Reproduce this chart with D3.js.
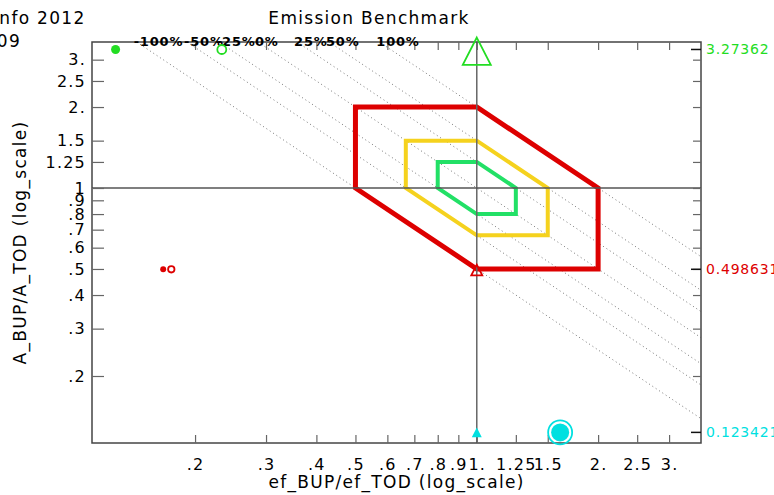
<!DOCTYPE html>
<html>
<head>
<meta charset="utf-8">
<script src="https://cdn.jsdelivr.net/npm/d3@7"></script>
<style>
  body { margin: 0; background: #fff; }
  svg text { font-family: "DejaVu Sans", sans-serif; }
</style>
</head>
<body>
<svg id="bench" width="774" height="495"></svg>
<script>
// tick values and labels
var xTicks = [0.2, 0.3, 0.4, 0.5, 0.6, 0.7, 0.8, 0.9, 1, 1.25, 1.5, 2, 2.5, 3];
var xTickLabels = [".2", ".3", ".4", ".5", ".6", ".7", ".8", ".9", "1.", "1.25", "1.5", "2.", "2.5", "3."];
var yTicks = [3, 2.5, 2, 1.5, 1.25, 1, 0.9, 0.8, 0.7, 0.6, 0.5, 0.4, 0.3, 0.2];
var yTickLabels = ["3.", "2.5", "2.", "1.5", "1.25", "1", ".9", ".8", ".7", ".6", ".5", ".4", ".3", ".2"];

// benchmark boxes (factor around 1) and iso-emission lines (ef*A)
var boxFactors = [2, 1.5, 1.25];
var isoValues = [0.5, 0.6667, 0.8, 1, 1.25, 1.5, 2];
var isoLabels = ["-100%", "-50%", "-25%", "0%", "25%", "50%", "100%"];

// series: A ratio, x of filled dot, x of open circle, x of triangle
var seriesNames = ["green", "red", "cyan"];
var seriesA = [3.27362, 0.498631, 0.123421];
var seriesDotX = [0.127, 0.1667, 1.61];
var seriesRingX = [0.233, 0.1746, 1.61];
var seriesTriX = [1, 1, 1];

!(function (d3) {

var svg = d3.select("#bench"),
    left = 92, right = 701, top = 42, bottom = 443;

var x = d3.scaleLog().domain([0.111, 3.6]).range([left, right]);
var y = d3.scaleLog().domain([0.1127, 3.49]).range([bottom, top]);

var col = {green: "#22dd22", red: "#dd0000", cyan: "#00e0e0"};
var boxCol = ["#dd0000", "#f5d21e", "#22e066"];
var boxW = [5, 4, 4];
var mk = {
  green: {dot: 4.5, ring: 4.5, tri: 14, triFill: false},
  red: {dot: 3, ring: 3.2, tri: 5.5, triFill: false},
  cyan: {dot: 9, ring: 12, tri: 3.5, triFill: true}
};

svg.append("defs").append("clipPath").attr("id", "plotclip")
  .append("rect").attr("x", left).attr("y", top)
  .attr("width", right - left).attr("height", bottom - top);

// texts at top
svg.append("text").attr("x", 369).attr("y", 24).attr("text-anchor", "middle")
  .style("font-size", "17px").style("letter-spacing", "1.3px").text("Emission Benchmark");
svg.append("text").attr("x", -7).attr("y", 24)
  .style("font-size", "17px").style("letter-spacing", "1.3px").text("Info 2012");
svg.append("text").attr("x", 21).attr("y", 47).attr("text-anchor", "end")
  .style("font-size", "17px").style("letter-spacing", "1.3px").text("2009");

// iso lines
var plot = svg.append("g").attr("clip-path", "url(#plotclip)");
plot.selectAll("line.iso")
  .data(isoValues)
  .enter().append("line")
    .attr("class", "iso")
    .attr("x1", function(d) { return x(d / y.domain()[1]); })
    .attr("y1", top)
    .attr("x2", right)
    .attr("y2", function(d) { return y(d / x.domain()[1]); })
    .attr("stroke", "#777")
    .attr("stroke-width", 1)
    .attr("stroke-dasharray", "1,3");

// crosshair at 1
svg.append("line").attr("x1", x(1)).attr("x2", x(1)).attr("y1", top).attr("y2", bottom)
  .attr("stroke", "#666").attr("stroke-width", 1.5);
svg.append("line").attr("x1", left).attr("x2", right).attr("y1", y(1)).attr("y2", y(1))
  .attr("stroke", "#555").attr("stroke-width", 1.5);

// benchmark hexagons
var hex = d3.line().x(function(p) { return x(p[0]); }).y(function(p) { return y(p[1]); });
plot.selectAll("path.box")
  .data(boxFactors)
  .enter().append("path")
    .attr("class", "box")
    .attr("d", function(f) {
      return hex([[1 / f, 1], [1 / f, f], [1, f], [f, 1], [f, 1 / f], [1, 1 / f]]) + "Z";
    })
    .attr("fill", "none")
    .attr("stroke", function(d, i) { return boxCol[i]; })
    .attr("stroke-width", function(d, i) { return boxW[i]; })
    .attr("stroke-linejoin", "miter");

// frame
svg.append("rect").attr("x", left).attr("y", top)
  .attr("width", right - left).attr("height", bottom - top)
  .attr("fill", "none").attr("stroke", "#444").attr("stroke-width", 1.5);

// axes
svg.append("g").attr("transform", "translate(0," + bottom + ")")
  .call(d3.axisBottom(x).tickValues(xTicks).tickSize(-8).tickPadding(16)
    .tickFormat(function(d, i) { return xTickLabels[i]; }));
svg.append("g").attr("transform", "translate(0," + top + ")")
  .call(d3.axisTop(x).tickValues(xTicks).tickSize(-8).tickFormat(""));
svg.append("g").attr("transform", "translate(" + left + ",0)")
  .call(d3.axisLeft(y).tickValues(yTicks).tickSize(-12).tickPadding(6)
    .tickFormat(function(d, i) { return yTickLabels[i]; }));
svg.append("g").attr("transform", "translate(" + right + ",0)")
  .call(d3.axisRight(y).tickValues(yTicks).tickSize(-8).tickFormat(""));

svg.selectAll(".domain").remove();
svg.selectAll(".tick line").attr("stroke", "#666").attr("stroke-width", 1.2);
svg.selectAll(".tick text").attr("fill", "#000").style("font-size", "16px")
  .style("letter-spacing", "1.2px")
  .style("font-family", "DejaVu Sans, sans-serif");

// iso labels on top border
svg.selectAll("text.iso")
  .data(isoValues)
  .enter().append("text")
    .attr("class", "iso")
    .attr("x", function(d) { return x(d / y.domain()[1]) - 3; })
    .attr("y", 46)
    .style("font-size", "13px")
    .style("letter-spacing", "0.8px")
    .style("font-weight", "bold")
    .text(function(d, i) { return isoLabels[i]; });

// axis titles
svg.append("text").attr("x", (left + right) / 2).attr("y", 488).attr("text-anchor", "middle")
  .style("font-size", "17px").style("letter-spacing", "1.3px").text("ef_BUP/ef_TOD (log_scale)");
svg.append("text").attr("transform", "translate(26," + (top + bottom) / 2 + ") rotate(-90)")
  .attr("text-anchor", "middle").style("font-size", "17px").style("letter-spacing", "1.3px")
  .text("A_BUP/A_TOD (log_scale)");

// series markers
var series = seriesNames.map(function(n, i) {
  return {name: n, a: seriesA[i], dot: seriesDotX[i], ring: seriesRingX[i], tri: seriesTriX[i]};
});

var g = svg.selectAll("g.series")
  .data(series)
  .enter().append("g")
    .attr("class", "series");

g.append("line")
  .attr("x1", right - 10).attr("x2", right)
  .attr("y1", function(d) { return y(d.a); })
  .attr("y2", function(d) { return y(d.a); })
  .attr("stroke", "#111").attr("stroke-width", 1.5);

g.append("text")
  .attr("x", right + 5)
  .attr("y", function(d) { return y(d.a); })
  .attr("dy", "0.35em")
  .attr("fill", function(d) { return col[d.name]; })
  .style("font-size", "14px")
  .style("letter-spacing", "0.8px")
  .text(function(d) { return String(d.a); });

g.append("path")
  .attr("d", function(d) {
    var s = mk[d.name].tri, cx = x(d.tri), cy = y(d.a);
    return "M" + cx + "," + (cy - s * 0.85) + "L" + (cx + s) + "," + (cy + s * 1.1) +
      "L" + (cx - s) + "," + (cy + s * 1.1) + "Z";
  })
  .attr("fill", function(d) { return mk[d.name].triFill ? col[d.name] : "none"; })
  .attr("stroke", function(d) { return col[d.name]; })
  .attr("stroke-width", 1.8);

g.append("circle")
  .attr("cx", function(d) { return x(d.ring); })
  .attr("cy", function(d) { return y(d.a); })
  .attr("r", function(d) { return mk[d.name].ring; })
  .attr("fill", "none")
  .attr("stroke", function(d) { return col[d.name]; })
  .attr("stroke-width", 1.8);

g.append("circle")
  .attr("cx", function(d) { return x(d.dot); })
  .attr("cy", function(d) { return y(d.a); })
  .attr("r", function(d) { return mk[d.name].dot; })
  .attr("fill", function(d) { return col[d.name]; });

})(d3);
</script>
</body>
</html>
